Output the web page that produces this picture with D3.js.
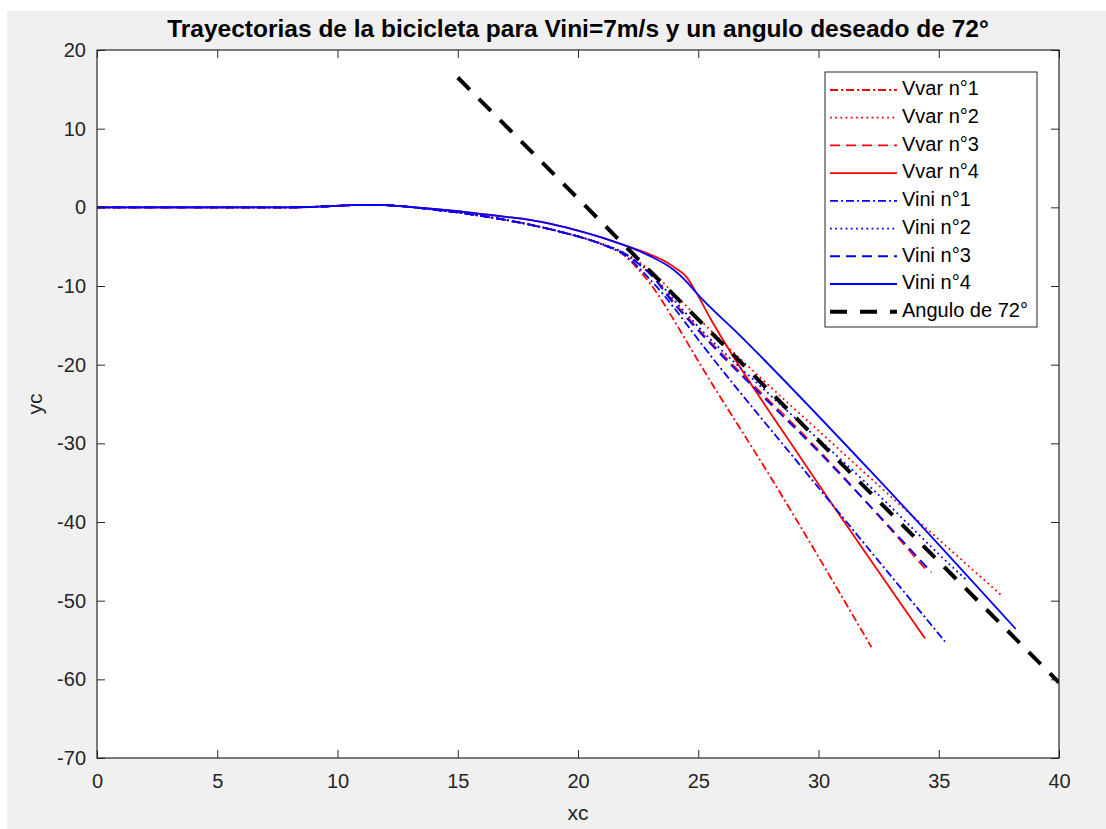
<!DOCTYPE html>
<html>
<head>
<meta charset="utf-8">
<script src="https://cdn.jsdelivr.net/npm/d3@7"></script>
<style>
  html, body { margin: 0; padding: 0; background: #ffffff; }
  svg { display: block; font-family: "Liberation Sans", Arial, Helvetica, sans-serif; }
</style>
</head>
<body>
<svg id="fig" width="1106" height="829"></svg>
<script>
// Shared straight run and small bump before the turn (all runs identical here)
const approachX = [0, 2, 4, 6, 8, 8.8, 9.6, 10.4, 11.2, 11.8, 12.5, 13.2];
const approachY = [0, 0, 0, 0, 0, 0.04, 0.14, 0.25, 0.32, 0.3, 0.18, 0.0];

// Variable-speed runs (red)
const vvar1X = [14, 15, 16, 17, 18, 19, 20, 21, 22, 22.6, 23, 23.5, 24, 25.07, 28.07, 32.2];
const vvar1Y = [-0.3, -0.65, -1.1, -1.6, -2.2, -2.9, -3.7, -4.7, -6.3, -8.2, -9.7, -11.9, -14.4, -19.9, -34.6, -55.9];
const vvar2X = [14, 15, 16, 17, 18, 19, 20, 21, 22, 22.6, 23, 24, 25.07, 30.9, 37.6];
const vvar2Y = [-0.3, -0.65, -1.1, -1.6, -2.2, -2.9, -3.7, -4.6, -5.9, -7.1, -8.0, -11.0, -14.3, -30.9, -49.3];
const vvar3X = [14, 15, 16, 17, 18, 19, 20, 21, 22, 22.6, 23, 24, 25.07, 30.2, 34.43];
const vvar3Y = [-0.3, -0.65, -1.1, -1.6, -2.2, -2.9, -3.7, -4.7, -6.0, -7.35, -8.4, -12.1, -15.7, -31.5, -45.9];
const vvar4X = [14, 15, 16, 17, 18, 19, 20, 21, 22, 23, 23.7, 24, 24.5, 24.93, 25.5, 26.04, 29.23, 34.43];
const vvar4Y = [-0.2, -0.5, -0.85, -1.2, -1.6, -2.2, -2.95, -3.85, -4.9, -6.0, -7.0, -7.6, -8.8, -10.9, -14.1, -16.9, -31.7, -54.8];

// Constant initial-speed runs (blue)
const vini1X = [14, 15, 16, 17, 18, 19, 20, 21, 22, 22.6, 23, 23.5, 24, 25.07, 29.4, 35.26];
const vini1Y = [-0.3, -0.65, -1.1, -1.6, -2.2, -2.9, -3.7, -4.7, -6.2, -7.9, -9.2, -10.9, -12.8, -17.1, -33.4, -55.2];
const vini2X = [14, 15, 16, 17, 18, 19, 20, 21, 22, 22.6, 23, 24, 25.07, 28, 32, 35.7, 36.2];
const vini2Y = [-0.3, -0.65, -1.1, -1.6, -2.2, -2.9, -3.7, -4.7, -6.0, -7.3, -8.3, -11.8, -15.4, -23.9, -35.1, -46.1, -47.5];
const vini3X = [14, 15, 16, 17, 18, 19, 20, 21, 22, 22.6, 23, 24, 25.07, 30.2, 34.7];
const vini3Y = [-0.3, -0.65, -1.1, -1.6, -2.2, -2.9, -3.7, -4.7, -6.0, -7.4, -8.5, -12.3, -15.9, -31.7, -46.4];
const vini4X = [14, 15, 16, 17, 18, 19, 20, 21, 22, 22.58, 23, 24, 24.5, 24.93, 26.74, 32.43, 38.2];
const vini4Y = [-0.2, -0.5, -0.85, -1.2, -1.6, -2.2, -2.95, -3.85, -4.9, -5.6, -6.2, -8.0, -9.4, -10.9, -16.3, -34.4, -53.6];

// Reference heading line at 72 degrees
const refX = [15, 40];
const refY = [16.5, -60.4];

const xTicks = [0, 5, 10, 15, 20, 25, 30, 35, 40];
const yTicks = [20, 10, 0, -10, -20, -30, -40, -50, -60, -70];

const seriesNames = ["Vvar n°1", "Vvar n°2", "Vvar n°3", "Vvar n°4",
                     "Vini n°1", "Vini n°2", "Vini n°3", "Vini n°4", "Angulo de 72°"];

// ---- layout ----
const svg = d3.select("#fig");
const W = 1106, H = 829;
const box = { left: 97, top: 50, right: 1059, bottom: 758 };
const ink = "#262626";

const x = d3.scaleLinear().domain([0, 40]).range([box.left, box.right]);
const y = d3.scaleLinear().domain([-70, 20]).range([box.bottom, box.top]);

// figure background
svg.append("rect").attr("x", 0).attr("y", 0).attr("width", W).attr("height", H).attr("fill", "#ffffff");
svg.append("rect").attr("x", 7).attr("y", 11).attr("width", W - 7).attr("height", H - 11).attr("fill", "#f0f0f0");
svg.append("rect").attr("x", box.left).attr("y", box.top)
  .attr("width", box.right - box.left).attr("height", box.bottom - box.top).attr("fill", "#ffffff");

svg.append("clipPath").attr("id", "plotclip").append("rect")
  .attr("x", box.left).attr("y", box.top)
  .attr("width", box.right - box.left).attr("height", box.bottom - box.top);

// line styles
const styles = {
  dashdot: "8,3,2,3",
  dotted: "1.8,3.4",
  dashed: "10,6",
  solid: null
};
const lineW = 1.8;

function join(ax, ay, bx, by) {
  const pts = ax.map((v, i) => [v, ay[i]]);
  return pts.concat(bx.map((v, i) => [v, by[i]]));
}

const series = [
  { name: seriesNames[0], color: "#ff0000", dash: styles.dashdot, pts: join(approachX, approachY, vvar1X, vvar1Y) },
  { name: seriesNames[1], color: "#ff0000", dash: styles.dotted,  pts: join(approachX, approachY, vvar2X, vvar2Y) },
  { name: seriesNames[2], color: "#ff0000", dash: styles.dashed,  pts: join(approachX, approachY, vvar3X, vvar3Y) },
  { name: seriesNames[3], color: "#ff0000", dash: styles.solid,   pts: join(approachX, approachY, vvar4X, vvar4Y) },
  { name: seriesNames[4], color: "#0000ff", dash: styles.dashdot, pts: join(approachX, approachY, vini1X, vini1Y) },
  { name: seriesNames[5], color: "#0000ff", dash: styles.dotted,  pts: join(approachX, approachY, vini2X, vini2Y) },
  { name: seriesNames[6], color: "#0000ff", dash: styles.dashed,  pts: join(approachX, approachY, vini3X, vini3Y) },
  { name: seriesNames[7], color: "#0000ff", dash: styles.solid,   pts: join(approachX, approachY, vini4X, vini4Y) }
];

const line = d3.line().x(d => x(d[0])).y(d => y(d[1])).curve(d3.curveMonotoneX);

const plot = svg.append("g").attr("clip-path", "url(#plotclip)");
series.forEach(s => {
  plot.append("path")
    .attr("d", line(s.pts))
    .attr("fill", "none")
    .attr("stroke", s.color)
    .attr("stroke-width", lineW)
    .attr("stroke-dasharray", s.dash);
});

// 72 degree reference line
plot.append("path")
  .attr("d", d3.line().x(d => x(d[0])).y(d => y(d[1]))(refX.map((v, i) => [v, refY[i]])))
  .attr("fill", "none")
  .attr("stroke", "#000000")
  .attr("stroke-width", 4)
  .attr("stroke-dasharray", "17,13");

// ---- axes (ticks inward on all four sides) ----
const fontSize = 20;
const tickLen = 8;
const plain = d => String(d);

const gB = svg.append("g").attr("transform", `translate(0,${box.bottom})`)
  .call(d3.axisBottom(x).tickValues(xTicks).tickSize(-tickLen).tickPadding(16).tickFormat(plain));
const gT = svg.append("g").attr("transform", `translate(0,${box.top})`)
  .call(d3.axisTop(x).tickValues(xTicks).tickSize(-tickLen).tickFormat(""));
const gL = svg.append("g").attr("transform", `translate(${box.left},0)`)
  .call(d3.axisLeft(y).tickValues(yTicks).tickSize(-tickLen).tickPadding(11).tickFormat(plain));
const gR = svg.append("g").attr("transform", `translate(${box.right},0)`)
  .call(d3.axisRight(y).tickValues(yTicks).tickSize(-tickLen).tickFormat(""));

[gB, gT, gL, gR].forEach(g => {
  g.select(".domain").remove();
  g.selectAll(".tick line").attr("stroke", ink).attr("stroke-width", 1);
  g.selectAll(".tick text").attr("fill", ink).attr("font-size", fontSize)
    .attr("font-family", "'Liberation Sans', Arial, sans-serif");
});

// axes box
svg.append("rect").attr("x", box.left).attr("y", box.top)
  .attr("width", box.right - box.left).attr("height", box.bottom - box.top)
  .attr("fill", "none").attr("stroke", ink).attr("stroke-width", 1.2);

// ---- titles ----
svg.append("text")
  .attr("x", (box.left + box.right) / 2).attr("y", 31)
  .attr("text-anchor", "middle").attr("dominant-baseline", "middle")
  .attr("font-size", 24.5).attr("font-weight", "bold").attr("fill", "#000000")
  .text("Trayectorias de la bicicleta para Vini=7m/s y un angulo deseado de 72°");

svg.append("text")
  .attr("x", (box.left + box.right) / 2).attr("y", 814)
  .attr("text-anchor", "middle").attr("dominant-baseline", "middle")
  .attr("font-size", 21).attr("fill", ink)
  .text("xc");

svg.append("text")
  .attr("transform", `translate(36,${(box.top + box.bottom) / 2}) rotate(-90)`)
  .attr("text-anchor", "middle").attr("dominant-baseline", "middle")
  .attr("font-size", 21).attr("fill", ink)
  .text("yc");

// ---- legend ----
const lg = { x0: 825, y0: 72, x1: 1037, y1: 327 };
svg.append("rect").attr("x", lg.x0).attr("y", lg.y0)
  .attr("width", lg.x1 - lg.x0).attr("height", lg.y1 - lg.y0)
  .attr("fill", "#ffffff").attr("stroke", ink).attr("stroke-width", 1);

const legendItems = series.map(s => ({ name: s.name, color: s.color, dash: s.dash, width: lineW }))
  .concat([{ name: seriesNames[8], color: "#000000", dash: "17,13", width: 4 }]);

const rowY = d3.scaleLinear().domain([0, legendItems.length - 1]).range([90, 311.7]);
const items = svg.append("g").selectAll("g").data(legendItems).join("g")
  .attr("transform", (d, i) => `translate(0,${rowY(i)})`);
items.append("line")
  .attr("x1", 830).attr("x2", 897).attr("y1", 0).attr("y2", 0)
  .attr("stroke", d => d.color).attr("stroke-width", d => d.width)
  .attr("stroke-dasharray", d => d.dash);
items.append("text")
  .attr("x", 902).attr("y", 0).attr("dominant-baseline", "middle")
  .attr("font-size", fontSize).attr("fill", "#000000")
  .text(d => d.name);
</script>
</body>
</html>
